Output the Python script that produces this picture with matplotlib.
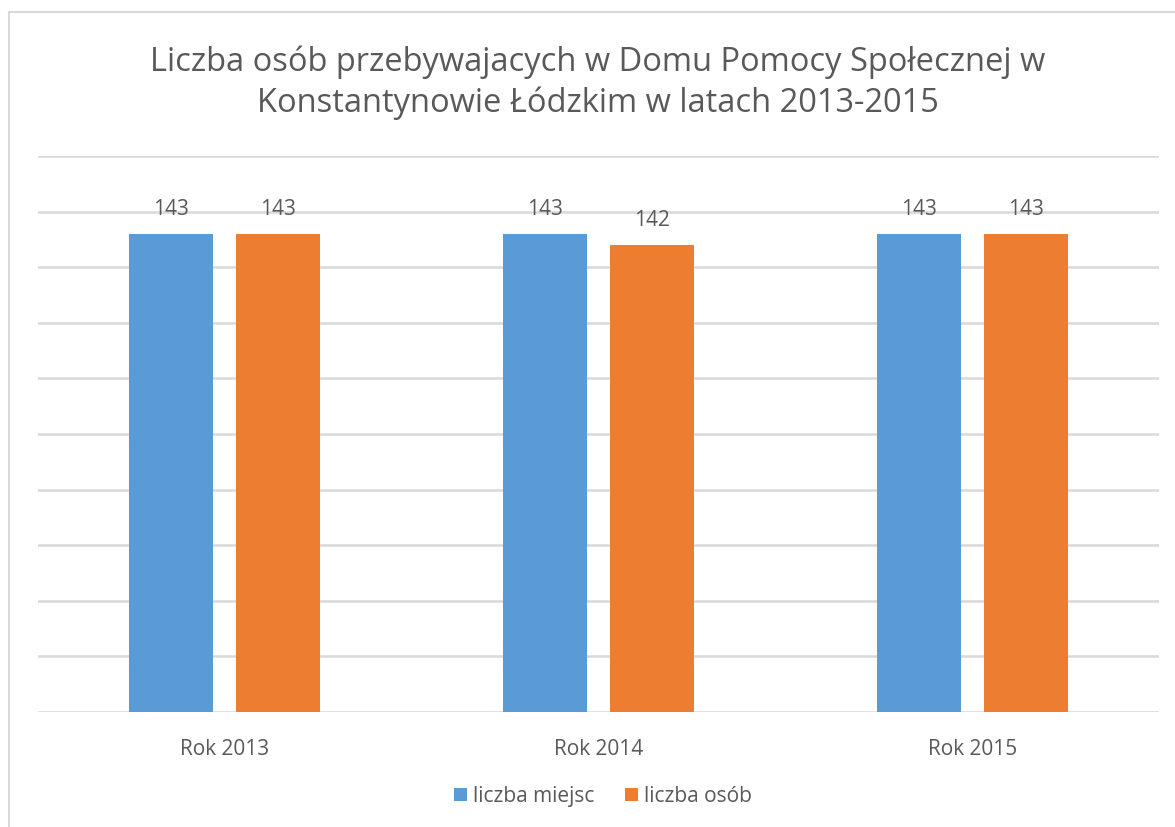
import matplotlib
matplotlib.use("Agg")
import matplotlib.pyplot as plt
import numpy as np

# --- dane ---
lata = ["Rok 2013", "Rok 2014", "Rok 2015"]
liczba_miejsc = [143, 143, 143]
liczba_osob = [143, 142, 143]
serie = ["liczba miejsc", "liczba osób"]

KOLORY = ["#5B9BD5", "#ED7D31"]
SZARY = "#595959"

plt.rcParams["font.family"] = ["Open Sans", "DejaVu Sans"]

fig = plt.figure(figsize=(11.75, 8.28), dpi=100)
ax = fig.add_axes([38 / 1175, 115 / 828, 1121 / 1175, 556 / 828])

# ramka wykresu (obcięta z prawej i z dołu)
fig.patches.append(plt.Rectangle((9 / 1175, -0.1), 1.2, (828 - 13) / 828 + 0.1,
                                 transform=fig.transFigure, fill=False,
                                 edgecolor="#d9d9d9", linewidth=1.5))

x = np.arange(len(lata))
w = 0.225
off = 0.143
for i, (vals, nazwa) in enumerate(zip([liczba_miejsc, liczba_osob], serie)):
    pos = x + (-off if i == 0 else off)
    bars = ax.bar(pos, vals, width=w, color=KOLORY[i], label=nazwa, zorder=3)
    for b, v in zip(bars, vals):
        ax.annotate(str(v), (b.get_x() + b.get_width() / 2, v),
                    xytext=(0, 18), textcoords="offset points",
                    ha="center", va="center", fontsize=15, color=SZARY)

ax.set_xlim(-0.5, 2.5)
ax.set_ylim(100, 150)
ax.set_yticks(np.arange(100, 151, 5))
ax.yaxis.grid(True, color="#d9d9d9", linewidth=1.8, zorder=0)
ax.tick_params(axis="y", left=False, labelleft=False)
ax.tick_params(axis="x", bottom=False, labelsize=15, labelcolor=SZARY, pad=15)
ax.set_xticks(x)
ax.set_xticklabels(lata)
for s in ax.spines.values():
    s.set_visible(False)

fig.text(598 / 1175, 1 - 83 / 828,
         "Liczba osób przebywajacych w Domu Pomocy Społecznej w\nKonstantynowie Łódzkim w latach 2013-2015",
         ha="center", va="center", fontsize=23.5, color=SZARY, linespacing=1.3)

fig.legend(loc="center", bbox_to_anchor=(603 / 1175, 1 - 797 / 828), ncol=2,
           frameon=False, fontsize=15, labelcolor=SZARY, handlelength=0.6,
           handleheight=0.6, handletextpad=0.3, columnspacing=1.5)

fig.savefig("out.png", dpi=100)
